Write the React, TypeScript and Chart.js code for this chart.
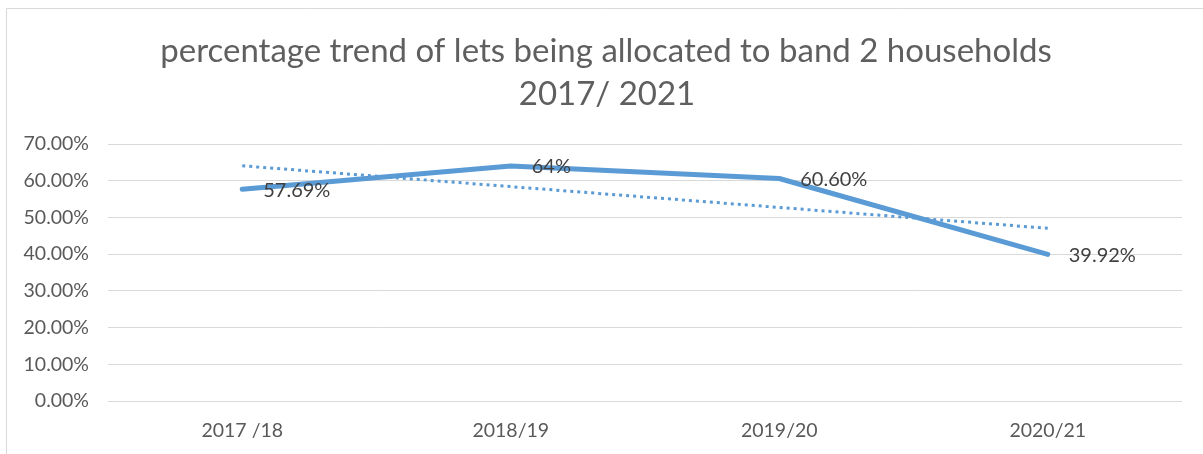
import React, { useEffect, useRef } from "react";
import { Chart, registerables } from "chart.js";

Chart.register(...registerables);

const categories = ["2017 /18", "2018/19", "2019/20", "2020/21"];
const bandTwoShare = [57.69, 64, 60.6, 39.92];
const linearTrend = [64.06, 58.39, 52.72, 47.04];
const pointLabels = ["57.69%", "64%", "60.60%", "39.92%"];
const titleLines = ["percentage trend of lets being allocated to band 2 households", "2017/ 2021"];
const yMin = 0;
const yMax = 70;
const yStep = 10;

const FONT = "Lato, 'Open Sans', sans-serif";
const BLUE = "#5B9BD5";

const framePlugin = {
  id: "frame",
  beforeDraw(chart: any) {
    const { ctx, width, height } = chart;
    ctx.save();
    ctx.fillStyle = "#ffffff";
    ctx.fillRect(0, 0, width, height);
    ctx.strokeStyle = "#d9d9d9";
    ctx.lineWidth = 1;
    ctx.beginPath();
    ctx.moveTo(6.5, height);
    ctx.lineTo(6.5, 8.5);
    ctx.lineTo(width, 8.5);
    ctx.stroke();
    ctx.restore();
  },
};

const titlePlugin = {
  id: "twoLineTitle",
  afterDraw(chart: any) {
    const { ctx } = chart;
    ctx.save();
    ctx.fillStyle = "#5f5f5f";
    ctx.font = `400 33px ${FONT}`;
    ctx.textAlign = "center";
    ctx.textBaseline = "alphabetic";
    ctx.fillText(titleLines[0], 606, 62);
    ctx.fillText(titleLines[1], 607, 105);
    ctx.restore();
  },
};

const labelPlugin = {
  id: "pointLabels",
  afterDatasetsDraw(chart: any) {
    const { ctx } = chart;
    const meta = chart.getDatasetMeta(1);
    ctx.save();
    ctx.fillStyle = "#404040";
    ctx.font = `20px ${FONT}`;
    ctx.textAlign = "left";
    ctx.textBaseline = "middle";
    meta.data.forEach((pt: any, i: number) => {
      ctx.fillText(pointLabels[i], pt.x + 21, pt.y + 1);
    });
    ctx.restore();
  },
};

export default function App() {
  const ref = useRef<HTMLCanvasElement | null>(null);

  useEffect(() => {
    if (!ref.current) return;
    const chart = new Chart(ref.current, {
      type: "line",
      data: {
        labels: categories,
        datasets: [
          {
            label: "Linear trend",
            data: linearTrend,
            borderColor: BLUE,
            borderWidth: 3,
            borderDash: [3, 4],
            borderCapStyle: "butt",
            pointRadius: 0,
            tension: 0,
            fill: false,
          },
          {
            label: "Band 2 share",
            data: bandTwoShare,
            borderColor: BLUE,
            borderWidth: 5,
            borderCapStyle: "round",
            borderJoinStyle: "round",
            pointRadius: 0,
            tension: 0,
            fill: false,
          },
        ],
      },
      options: {
        animation: false,
        responsive: false,
        devicePixelRatio: 1,
        layout: { padding: { top: 144, right: 21, left: 0, bottom: 0 } },
        plugins: {
          legend: { display: false },
          title: { display: false },
          tooltip: { enabled: false },
        },
        scales: {
          x: {
            offset: true,
            grid: { display: false, drawTicks: false },
            border: { display: false },
            ticks: {
              color: "#595959",
              font: { family: FONT, size: 19.5 },
              padding: 18,
            },
            afterFit(scale: any) {
              scale.height = 53;
            },
          },
          y: {
            min: yMin,
            max: yMax,
            grid: { color: "#d9d9d9", lineWidth: 1, drawTicks: false },
            border: { display: false },
            ticks: {
              stepSize: yStep,
              color: "#595959",
              font: { family: FONT, size: 19.5 },
              padding: 19,
              callback: (v: any) => `${Number(v).toFixed(2)}%`,
            },
            afterFit(scale: any) {
              scale.width = 108;
            },
          },
        },
      },
      plugins: [framePlugin, titlePlugin, labelPlugin],
    });
    return () => chart.destroy();
  }, []);

  return (
    <div style={{ position: "absolute", left: 0, top: 0, width: 1203, height: 454 }}>
      <canvas ref={ref} width={1203} height={454} style={{ display: "block" }} />
    </div>
  );
}
